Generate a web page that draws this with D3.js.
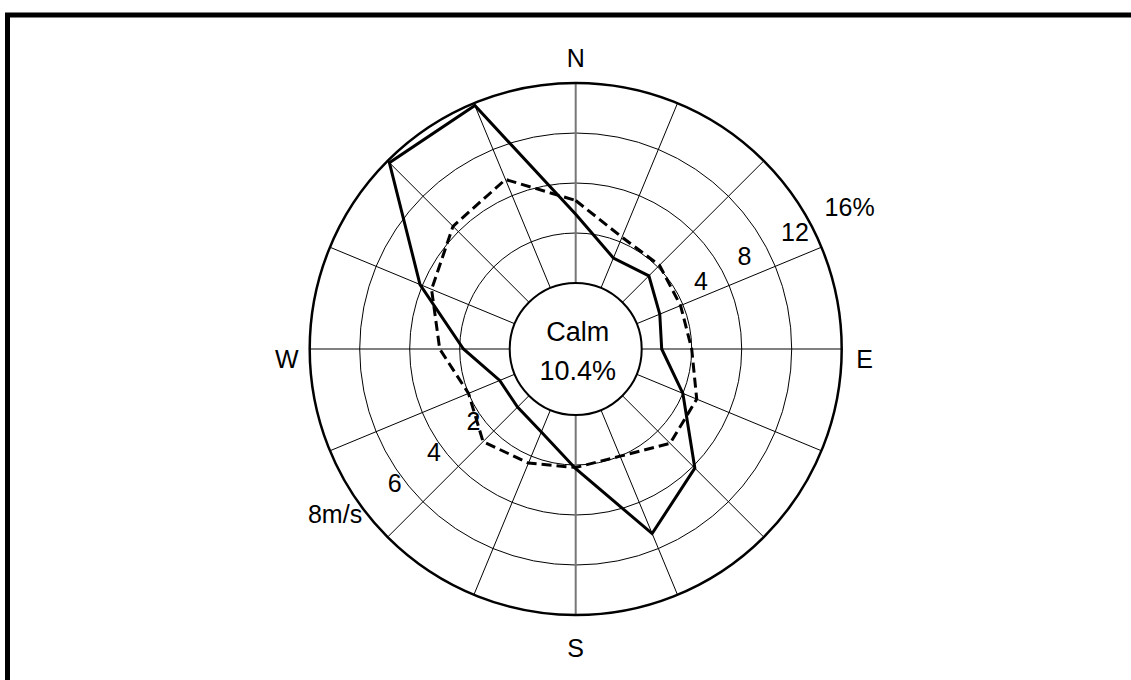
<!DOCTYPE html>
<html>
<head>
<meta charset="utf-8">
<script src="https://cdn.jsdelivr.net/npm/d3@7"></script>
<style>
  body { margin: 0; background: #fff; }
  svg text { font-family: "Liberation Sans", Arial, sans-serif; fill: #000; }
</style>
</head>
<body>
<div id="rose"></div>
<script>
// 16 wind directions, clockwise from north
var directions = ["N","NNE","NE","ENE","E","ESE","SE","SSE","S","SSW","SW","WSW","W","WNW","NW","NNW"];
// frequency of each direction (%) - solid line
var freqPct = [5.5, 2.6, 3.0, 2.0, 1.6, 4.0, 8.2, 10.7, 4.3, 1.9, 1.3, 1.3, 3.7, 8.2, 15.8, 15.8];
// mean wind speed (m/s) - dashed line
var speedMs = [3.3, 2.2, 2.1, 1.9, 2.0, 2.6, 2.7, 2.0, 2.1, 2.3, 2.6, 2.0, 2.8, 3.6, 4.3, 4.7];
var calmPct = 10.4;
var pctTicks = [4, 8, 12, 16];
var pctLabels = ["4", "8", "12", "16%"];
var spdTicks = [2, 4, 6, 8];
var spdLabels = ["2", "4", "6", "8m/s"];
var compass = ["N", "E", "S", "W"];

var width = 1131, height = 680
    cx = 575.7, cy = 349
    r0 = 66, r1 = 266

var svg = d3.select("#rose").append("svg")
    .attr("width", width)
    .attr("height", height)

// frame
svg.append("rect")
    .attr("x", 7.5).attr("y", 15)
    .attr("width", 1300).attr("height", 800)
    .attr("fill", "none")
    .attr("stroke", "#000")
    .attr("stroke-width", 5)

var g = svg.append("g")
    .attr("transform", "translate(" + cx + "," + cy + ")")

var rPct = d3.scaleLinear().domain([0, 16]).range([r0, r1])
var rSpd = d3.scaleLinear().domain([0, 8]).range([r0, r1])
var ang = d3.scalePoint().domain(directions).range([0, 2 * Math.PI * 15 / 16])

// rings
g.selectAll("circle.ring")
    .data(pctTicks.slice(0, 3))
    .enter()
    .append("circle")
        .attr("class", "ring")
        .attr("r", function(d){ return rPct(d) })
        .attr("fill", "none")
        .attr("stroke", "#000")
        .attr("stroke-width", 1)

// spokes
g.selectAll("line.spoke")
    .data(directions)
    .enter()
    .append("line")
        .attr("class", "spoke")
        .attr("x1", function(d){ return r0 * Math.sin(ang(d)) })
        .attr("y1", function(d){ return -r0 * Math.cos(ang(d)) })
        .attr("x2", function(d){ return r1 * Math.sin(ang(d)) })
        .attr("y2", function(d){ return -r1 * Math.cos(ang(d)) })
        .attr("stroke", function(d){ return (d == "N" || d == "S") ? "#777" : "#000" })
        .attr("stroke-width", function(d){ return (d == "N" || d == "S") ? 2 : 1 })

// outer + calm circles
g.append("circle").attr("r", r1).attr("fill", "none").attr("stroke", "#000").attr("stroke-width", 2.5)
g.append("circle").attr("r", r0).attr("fill", "#fff").attr("stroke", "#000").attr("stroke-width", 2)

// series
var freqLine = d3.lineRadial()
    .angle(function(d, i){ return ang(directions[i]) })
    .radius(function(d){ return rPct(d) })
    .curve(d3.curveLinearClosed)
var spdLine = d3.lineRadial()
    .angle(function(d, i){ return ang(directions[i]) })
    .radius(function(d){ return rSpd(d) })
    .curve(d3.curveLinearClosed)

g.append("path")
    .attr("d", spdLine(speedMs))
    .attr("fill", "none")
    .attr("stroke", "#000")
    .attr("stroke-width", 3)
    .attr("stroke-dasharray", "10,5")

g.append("path")
    .attr("d", freqLine(freqPct))
    .attr("fill", "none")
    .attr("stroke", "#000")
    .attr("stroke-width", 3)
    .attr("stroke-linejoin", "miter")

// percent labels
var aPct = 60.5 * Math.PI / 180
g.selectAll("text.pct")
    .data(pctTicks)
    .enter()
    .append("text")
        .attr("class", "pct")
        .attr("x", function(d){ return (rPct(d) + 20) * Math.sin(aPct) })
        .attr("y", function(d){ return -(rPct(d) + 22) * Math.cos(aPct) })
        .attr("dy", "0.35em")
        .attr("font-size", 25)
        .text(function(d, i){ return pctLabels[i] })

// speed labels
var aSpd = 232 * Math.PI / 180
g.selectAll("text.spd")
    .data(spdTicks)
    .enter()
    .append("text")
        .attr("class", "spd")
        .attr("x", function(d){ return (rSpd(d) + 5) * Math.sin(aSpd) })
        .attr("y", function(d){ return -(rSpd(d) + 2) * Math.cos(aSpd) })
        .attr("dy", "0.35em")
        .attr("text-anchor", "end")
        .attr("font-size", 25)
        .text(function(d, i){ return spdLabels[i] })

// compass letters
g.selectAll("text.dir")
    .data(compass)
    .enter()
    .append("text")
        .attr("class", "dir")
        .attr("x", function(d){ return (r1 + 23) * Math.sin(ang(d)) })
        .attr("y", function(d){ return -(r1 + 29) * Math.cos(ang(d)) + ((d == "E" || d == "W") ? 10 : 4) })
        .attr("dy", "0.35em")
        .attr("text-anchor", "middle")
        .attr("font-size", 25)
        .text(function(d){ return d })

// calm
g.append("text").attr("x", 2).attr("y", -17).attr("dy", "0.35em")
    .attr("text-anchor", "middle").attr("font-size", 27).text("Calm")
g.append("text").attr("x", 2).attr("y", 22).attr("dy", "0.35em")
    .attr("text-anchor", "middle").attr("font-size", 27).text(calmPct + "%")
</script>
</body>
</html>
